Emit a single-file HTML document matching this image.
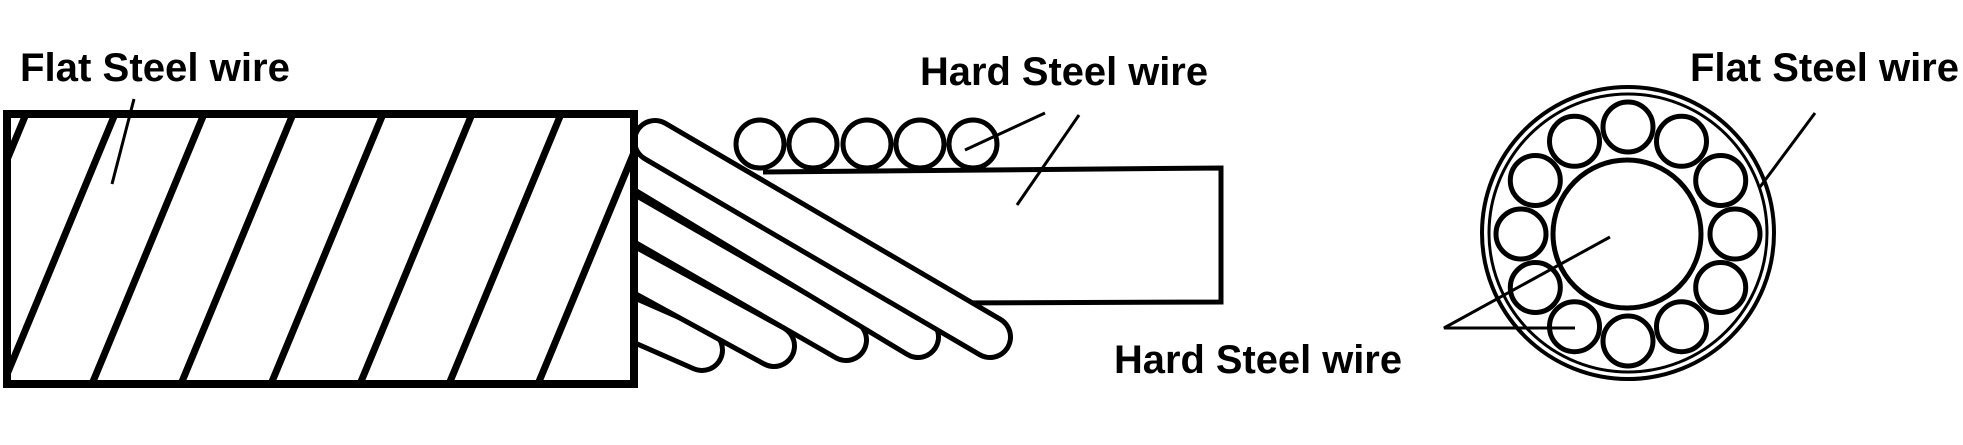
<!DOCTYPE html>
<html><head><meta charset="utf-8"><style>
html,body{margin:0;padding:0;background:#fff;}
svg{display:block;}
text{font-family:"Liberation Sans",sans-serif;font-weight:bold;fill:#000;}
</style></head><body>
<svg width="1963" height="445" viewBox="0 0 1963 445" xmlns="http://www.w3.org/2000/svg">
<defs><clipPath id="c"><rect x="7" y="114" width="627" height="270"/></clipPath></defs>
<!-- labels -->
<text x="20" y="81" font-size="40" textLength="270" lengthAdjust="spacingAndGlyphs">Flat Steel wire</text>
<text x="920" y="85" font-size="40" textLength="288" lengthAdjust="spacingAndGlyphs">Hard Steel wire</text>
<text x="1114" y="373" font-size="40" textLength="288" lengthAdjust="spacingAndGlyphs">Hard Steel wire</text>
<text x="1690" y="81" font-size="40" textLength="269" lengthAdjust="spacingAndGlyphs">Flat Steel wire</text>

<!-- middle hard steel core -->
<g fill="none" stroke="#000" stroke-width="5">
<polyline points="763,172 1221,168 1221,302 942,303"/>
</g>
<g fill="#fff" stroke="#000" stroke-width="5">
<circle cx="760" cy="144" r="24"/><circle cx="813" cy="144" r="24"/><circle cx="867" cy="144" r="24"/><circle cx="920" cy="144" r="24"/><circle cx="973" cy="144" r="24"/>
</g>
<g stroke="#000" stroke-width="3" fill="none">
<line x1="965" y1="150" x2="1045" y2="113"/>
<line x1="1017" y1="205" x2="1079" y2="115"/>
</g>
<!-- strands -->
<g fill="none" stroke-linecap="round">
<line x1="620" y1="314" x2="702" y2="350" stroke="#000" stroke-width="46"/><line x1="620" y1="314" x2="702" y2="350" stroke="#fff" stroke-width="36"/>
<line x1="620" y1="262" x2="774" y2="346" stroke="#000" stroke-width="46"/><line x1="620" y1="262" x2="774" y2="346" stroke="#fff" stroke-width="36"/>
<line x1="620" y1="210" x2="846" y2="340" stroke="#000" stroke-width="46"/><line x1="620" y1="210" x2="846" y2="340" stroke="#fff" stroke-width="36"/>
<line x1="620" y1="157" x2="918" y2="337" stroke="#000" stroke-width="46"/><line x1="620" y1="157" x2="918" y2="337" stroke="#fff" stroke-width="36"/>
<line x1="655" y1="141" x2="990" y2="337" stroke="#000" stroke-width="46"/><line x1="655" y1="141" x2="990" y2="337" stroke="#fff" stroke-width="36"/>
</g>

<!-- left rect -->
<rect x="7" y="114" width="627" height="270" fill="#fff" stroke="none"/>
<g clip-path="url(#c)" stroke="#000" stroke-width="7">
<line x1="26" y1="114" x2="-86" y2="384"/>
<line x1="115" y1="114" x2="3" y2="384"/>
<line x1="204" y1="114" x2="92" y2="384"/>
<line x1="293" y1="114" x2="181" y2="384"/>
<line x1="383" y1="114" x2="271" y2="384"/>
<line x1="472" y1="114" x2="360" y2="384"/>
<line x1="561" y1="114" x2="449" y2="384"/>
<line x1="650" y1="114" x2="538" y2="384"/>
</g>
<rect x="7" y="114" width="627" height="270" fill="none" stroke="#000" stroke-width="8"/>
<line x1="134" y1="99" x2="112" y2="184" stroke="#000" stroke-width="3"/>

<!-- cross-section -->
<g fill="none" stroke="#000">
<circle cx="1628" cy="233" r="146" stroke-width="4"/>
<circle cx="1628" cy="233" r="139" stroke-width="3"/>
<circle cx="1627" cy="234" r="74" stroke-width="5"/>
<g stroke-width="5" transform="translate(1628,234)">
<circle cx="0" cy="-107" r="25"/><circle cx="53.5" cy="-92.7" r="25"/><circle cx="92.7" cy="-53.5" r="25"/><circle cx="107" cy="0" r="25"/><circle cx="92.7" cy="53.5" r="25"/><circle cx="53.5" cy="92.7" r="25"/><circle cx="0" cy="107" r="25"/><circle cx="-53.5" cy="92.7" r="25"/><circle cx="-92.7" cy="53.5" r="25"/><circle cx="-107" cy="0" r="25"/><circle cx="-92.7" cy="-53.5" r="25"/><circle cx="-53.5" cy="-92.7" r="25"/>
</g>
<polyline points="1610,237 1444,328 1575,328" stroke-width="3"/>
<line x1="1760" y1="187" x2="1815" y2="113" stroke-width="3"/>
</g>
</svg>
</body></html>
